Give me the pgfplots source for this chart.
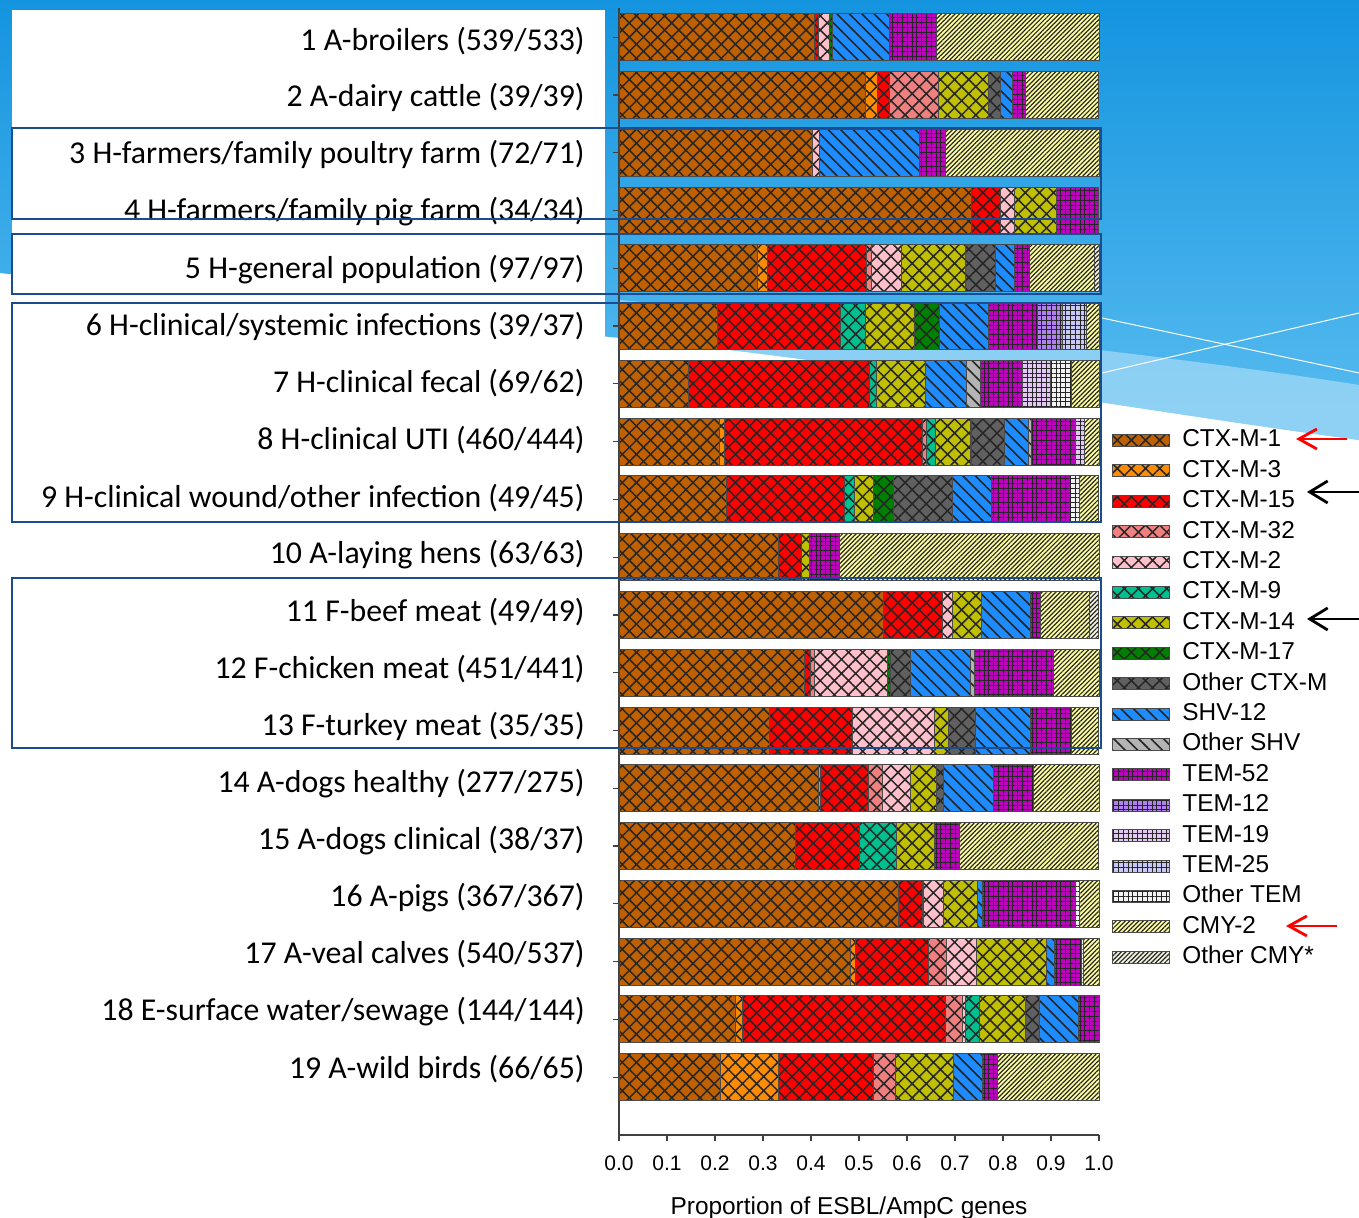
\documentclass[border=0pt]{standalone}
\usepackage{pgfplots}
\pgfplotsset{compat=1.18}
\usepackage{pgfplotstable}
\usepackage{fontspec}
\setmainfont{Liberation Sans}
\newfontfamily\carlito{Carlito}
\usetikzlibrary{patterns.meta, arrows.meta}

% gene colours
\definecolor{cA}{HTML}{C06000}   % CTX-M-1
\definecolor{cB}{HTML}{FF8C00}   % CTX-M-3
\definecolor{cC}{HTML}{FF0000}   % CTX-M-15
\definecolor{cD}{HTML}{F08080}   % CTX-M-32
\definecolor{cE}{HTML}{FFC0CB}   % CTX-M-2
\definecolor{cF}{HTML}{00C090}   % CTX-M-9
\definecolor{cG}{HTML}{C0C000}   % CTX-M-14
\definecolor{cH}{HTML}{008000}   % CTX-M-17
\definecolor{cI}{HTML}{606060}   % Other CTX-M
\definecolor{sA}{HTML}{1E8CFF}   % SHV-12
\definecolor{sB}{HTML}{B4B4B4}   % Other SHV
\definecolor{tA}{HTML}{C000C0}   % TEM-52
\definecolor{tB}{HTML}{B080F0}   % TEM-12
\definecolor{tC}{HTML}{E2C8F2}   % TEM-19
\definecolor{tD}{HTML}{C8C8F8}   % TEM-25
\definecolor{tE}{HTML}{F2F2F2}   % Other TEM
\definecolor{yA}{HTML}{FFFFA0}   % CMY-2
\definecolor{yB}{HTML}{F2F2E0}   % Other CMY
\definecolor{barline}{HTML}{4A4A4A}
\definecolor{axisgray}{HTML}{404040}
\definecolor{frameblue}{HTML}{1B4C8E}
\definecolor{bgTop}{HTML}{1494DF}
\definecolor{bgBot}{HTML}{5ABDF0}
\definecolor{bgLight}{HTML}{A6DBF7}

% proportion of genes per source (rows: position from the bottom)
\pgfplotstableread{
pos c1 c3 c15 c32 c2 c9 c14 c17 cO sh12 shO t52 t12 t19 t25 tO cmy2 cmyO
19 0.4063 0 0.0093 0 0.0223 0 0 0.0074 0 0.1187 0 0.0983 0 0 0 0 0.3377 0
18 0.5128 0.0256 0.0256 0.1026 0 0 0.1026 0 0.0256 0.0256 0 0.0256 0 0 0 0 0.1538 0
17 0.4028 0 0 0 0.0139 0 0 0 0 0.2083 0 0.0556 0 0 0 0 0.3194 0
16 0.7353 0 0.0588 0 0.0294 0 0.0882 0 0 0 0 0.0882 0 0 0 0 0 0
15 0.2887 0.0206 0.2062 0.0103 0.0619 0 0.1340 0 0.0619 0.0412 0 0.0309 0 0 0 0 0.1340 0.0103
14 0.2051 0 0.2564 0 0 0.0513 0.1026 0.0513 0 0.1026 0 0.1026 0.0513 0 0.0513 0 0.0256 0
13 0.1449 0 0.3768 0 0 0.0145 0.1014 0 0 0.0870 0.0290 0.0870 0 0.0580 0 0.0435 0.0580 0
12 0.2087 0.0109 0.4130 0.0087 0 0.0174 0.0739 0.0022 0.0674 0.0500 0.0065 0.0913 0 0.0196 0 0 0.0304 0
11 0.2245 0 0.2449 0 0 0.0204 0.0408 0.0408 0.1224 0.0816 0 0.1633 0 0 0 0.0204 0.0408 0
10 0.3333 0 0.0476 0 0 0 0.0159 0 0 0 0 0.0635 0 0 0 0 0.5397 0
9 0.5510 0 0.1224 0 0.0204 0 0.0612 0 0 0.1020 0 0.0204 0 0 0 0 0.1020 0.0204
8 0.3858 0 0.0133 0.0089 0.1508 0 0 0.0067 0.0421 0.1242 0.0089 0.1641 0 0 0 0 0.0953 0
7 0.3143 0 0.1714 0 0.1714 0 0.0286 0 0.0571 0.1143 0 0.0857 0 0 0 0 0.0571 0
6 0.4152 0.0036 0.1011 0.0289 0.0578 0 0.0542 0 0.0144 0.1047 0 0.0830 0 0 0 0 0.1372 0
5 0.3684 0 0.1316 0 0 0.0789 0.0789 0 0 0 0 0.0526 0 0 0 0 0.2895 0
4 0.5831 0 0.0490 0.0027 0.0409 0 0.0708 0 0 0.0109 0 0.1935 0 0 0 0.0082 0.0409 0
3 0.4815 0.0111 0.1519 0.0370 0.0630 0 0.1463 0 0 0.0167 0 0.0556 0 0 0 0.0056 0.0315 0
2 0.2431 0.0139 0.4236 0.0347 0.0069 0.0278 0.0972 0 0.0278 0.0833 0 0.0417 0 0 0 0 0 0
1 0.2121 0.1212 0.1970 0.0455 0 0 0.1212 0 0 0.0606 0 0.0303 0 0 0 0 0.2121 0
}\genes

\pgfplotsset{
  seg/.style={fill=#1, draw=barline, line width=0.5pt},
  ctx/.style={seg=#1, postaction={pattern={Hatch[angle=45,distance=5pt,line width=0.75pt]}, pattern color=black!85}},
  shv/.style={seg=#1, postaction={pattern={Lines[angle=-45,distance=4.4pt,line width=0.8pt]}, pattern color=black!85}},
  tem/.style={seg=#1, postaction={pattern={Hatch[angle=0,distance=2.4pt,line width=0.5pt]}, pattern color=black!85}},
  cmy/.style={seg=#1, postaction={pattern={Lines[angle=45,distance=1.6pt,line width=0.6pt]}, pattern color=black!85}},
}

\begin{document}
\begin{tikzpicture}
% slide background (pixel grid, y downwards)
\begin{scope}[x=0.5pt, y=-0.5pt, shift={(0pt,609pt)}]
  \fill[white] (0,0) rectangle (1359,1218);
  \shade[top color=bgTop, bottom color=bgBot]
    (0,0) -- (1359,0) -- (1359,440)
    .. controls (1150,412) and (850,360) .. (620,338)
    .. controls (400,316) and (150,290) .. (0,273) -- cycle;
  \fill[bgLight, opacity=0.7]
    (620,300) .. controls (850,322) and (1150,352) .. (1359,385)
    -- (1359,440) .. controls (1150,412) and (850,360) .. (620,338) -- cycle;
  \draw[white, line width=0.5pt] (1102,318) -- (1359,373);
  \draw[white, line width=0.5pt] (1102,373) -- (1359,313);
  \fill[white] (12,10) rectangle (605,1218);
\end{scope}

\begin{axis}[
  at={(309.5pt,41.5pt)}, anchor=south west, scale only axis,
  width=240pt, height=563.35pt,
  xbar stacked, bar width=0.813,
  xmin=0, xmax=1, ymin=0, ymax=19.5,
  axis x line*=bottom, axis y line*=left,
  axis line style={draw=axisgray, line width=0.6pt},
  tick align=outside, major tick length=3pt,
  tick style={draw=axisgray, line width=0.6pt},
  xtick={0,0.1,0.2,0.3,0.4,0.5,0.6,0.7,0.8,0.9,1},
  xticklabels={0.0,0.1,0.2,0.3,0.4,0.5,0.6,0.7,0.8,0.9,1.0},
  xticklabel style={font=\fontsize{10.5}{12}\selectfont, yshift=-4pt},
  ytick={1,...,19},
  yticklabels={
    19 A-wild birds (66/65),
    18 E-surface water/sewage (144/144),
    17 A-veal calves (540/537),
    16 A-pigs (367/367),
    15 A-dogs clinical (38/37),
    14 A-dogs healthy (277/275),
    13 F-turkey meat (35/35),
    12 F-chicken meat (451/441),
    11 F-beef meat (49/49),
    10 A-laying hens (63/63),
    9 H-clinical wound/other infection (49/45),
    8 H-clinical UTI (460/444),
    7 H-clinical fecal (69/62),
    6 H-clinical/systemic infections (39/37),
    5 H-general population (97/97),
    4 H-farmers/family pig farm (34/34),
    3 H-farmers/family poultry farm (72/71),
    2 A-dairy cattle (39/39),
    1 A-broilers (539/533)},
  yticklabel style={font=\carlito\fontsize{15.9}{18}\selectfont, inner xsep=0pt,
    xshift=-14pt, yshift={4.6pt-0.335pt*\tick}},
  xlabel={Proportion of ESBL/AmpC genes},
  xlabel style={font=\fontsize{12.2}{14}\selectfont, at={(axis description cs:0.5,0)}, anchor=center, yshift=-36.5pt, xshift=-5pt},
  legend cell align=left,
  legend image code/.code={\draw[#1] (0pt,-3pt) rectangle (28.5pt,3pt);},
  legend style={at={(axis description cs:1.027,0.387)}, anchor=west, draw=none, fill=none,
    inner sep=0pt, row sep=3.6pt, column sep=4pt,
    font=\fontsize{12.2}{14}\selectfont,
    nodes={inner ysep=0pt, text height=9pt, text depth=2.6pt}},
  clip=false,
]
\addplot[ctx=cA] table[x=c1,  y=pos] {\genes};
\addplot[ctx=cB] table[x=c3,  y=pos] {\genes};
\addplot[ctx=cC] table[x=c15, y=pos] {\genes};
\addplot[ctx=cD] table[x=c32, y=pos] {\genes};
\addplot[ctx=cE] table[x=c2,  y=pos] {\genes};
\addplot[ctx=cF] table[x=c9,  y=pos] {\genes};
\addplot[ctx=cG] table[x=c14, y=pos] {\genes};
\addplot[ctx=cH] table[x=c17, y=pos] {\genes};
\addplot[ctx=cI] table[x=cO,  y=pos] {\genes};
\addplot[shv=sA] table[x=sh12, y=pos] {\genes};
\addplot[shv=sB] table[x=shO,  y=pos] {\genes};
\addplot[tem=tA] table[x=t52, y=pos] {\genes};
\addplot[tem=tB] table[x=t12, y=pos] {\genes};
\addplot[tem=tC] table[x=t19, y=pos] {\genes};
\addplot[tem=tD] table[x=t25, y=pos] {\genes};
\addplot[tem=tE] table[x=tO,  y=pos] {\genes};
\addplot[cmy=yA] table[x=cmy2, y=pos] {\genes};
\addplot[cmy=yB] table[x=cmyO, y=pos] {\genes};
\legend{CTX-M-1, CTX-M-3, CTX-M-15, CTX-M-32, CTX-M-2, CTX-M-9, CTX-M-14,
  CTX-M-17, Other CTX-M, SHV-12, Other SHV, TEM-52, TEM-12, TEM-19,
  TEM-25, Other TEM, CMY-2, Other CMY*}
\end{axis}

% group frames and arrows (pixel grid, y downwards)
\begin{scope}[x=0.5pt, y=-0.5pt, shift={(0pt,609pt)}]
  \draw[frameblue, line width=1.3pt] (12,128) rectangle (1101,219);
  \draw[frameblue, line width=1.3pt] (12,234) rectangle (1101,294);
  \draw[frameblue, line width=1.3pt] (12,303) rectangle (1101,522);
  \draw[frameblue, line width=1.3pt] (12,578) rectangle (1101,748);
  \draw[red, line width=1.4pt, -{Straight Barb[length=9pt,width=10pt]}] (1347,439) -- (1296,439);
  \draw[black, line width=1.4pt, -{Straight Barb[length=9pt,width=11pt]}] (1359,492) -- (1307,492);
  \draw[black, line width=1.4pt, -{Straight Barb[length=9pt,width=11pt]}] (1359,619) -- (1307,619);
  \draw[red, line width=1.4pt, -{Straight Barb[length=9pt,width=10pt]}] (1337,926) -- (1286,926);
\end{scope}
\pgfresetboundingbox
\path[use as bounding box] (0,0) rectangle (679.5pt,609pt);
\end{tikzpicture}
\end{document}
